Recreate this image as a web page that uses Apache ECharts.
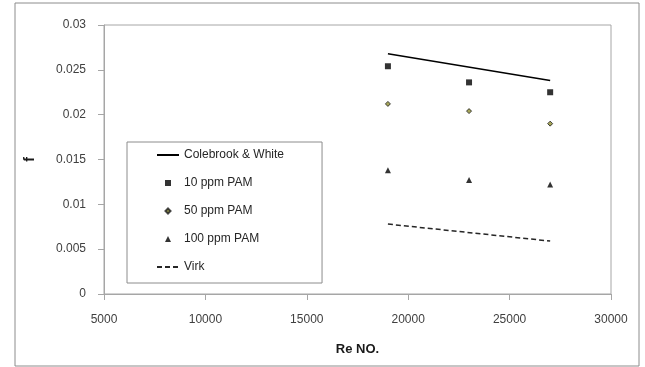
<!DOCTYPE html>
<html>
<head>
<meta charset="utf-8">
<script src="https://cdn.jsdelivr.net/npm/echarts@6/dist/echarts.min.js"></script>
<style>
  html, body { margin: 0; padding: 0; background: #fff; }
  #chart { width: 645px; height: 367px; }
</style>
</head>
<body>
<div id="chart"></div>
<script>
// Re numbers of the measured points
const reValues = [19000, 23000, 27000];
const colebrook = [0.0268, 0.0238];      // at first / last Re
const virk = [0.0078, 0.0059];
const ppm10 = [0.0254, 0.0236, 0.0225];
const ppm50 = [0.0212, 0.0204, 0.0190];
const ppm100 = [0.0138, 0.0127, 0.0122];
const lineRe = [reValues[0], reValues[reValues.length - 1]];

function pairs (xs, ys)
{
  return xs.map((x, i) => [x, ys[i]]);
}

let chart = echarts.init(document.getElementById('chart'));
let font = 'Liberation Sans, Arial, sans-serif';

// legend icons live in a 22x6 box; the bare moveTo's keep the box so the marker stays small
let iconSquare = 'path://M0 0M22 6M8 0L14 0L14 6L8 6Z';
let iconDiamond = 'path://M0 0M22 6M11 0.5L13.5 3L11 5.5L8.5 3Z';
let iconTriangle = 'path://M0 0M22 6M11 0L14 6L8 6Z';

let option = {
  animation: false,
  textStyle: { fontFamily: font },
  graphic: [
    {
      type: 'rect',
      shape: { x: 15, y: 3, width: 624, height: 363 },
      style: { fill: null, stroke: '#8c8c8c', lineWidth: 1 },
      silent: true
    }
  ],
  grid: {
    left: 104,
    right: 34,
    top: 25,
    bottom: 73,
    show: true,
    borderColor: '#a6a6a6',
    borderWidth: 1
  },
  legend: {
    orient: 'vertical',
    left: 127,
    top: 142,
    padding: [6, 38, 9, 29],
    itemGap: 14,
    itemWidth: 22,
    itemHeight: 6,
    borderColor: '#8c8c8c',
    borderWidth: 1,
    textStyle: { fontFamily: font, fontSize: 12, color: '#262626', lineHeight: 14 },
    data: [
      { name: 'Colebrook & White', itemStyle: { opacity: 0 } },
      { name: '10 ppm PAM', icon: iconSquare },
      { name: '50 ppm PAM', icon: iconDiamond },
      { name: '100 ppm PAM', icon: iconTriangle },
      { name: 'Virk', itemStyle: { opacity: 0 } }
    ]
  },
  xAxis: {
    type: 'value',
    min: 5000,
    max: 30000,
    interval: 5000,
    name: 'Re NO.',
    nameLocation: 'middle',
    nameGap: 49,
    nameTextStyle: { fontFamily: font, fontSize: 13, fontWeight: 'bold', color: '#1a1a1a' },
    splitLine: { show: false },
    axisLine: { lineStyle: { color: '#a6a6a6' } },
    axisTick: { length: 6, lineStyle: { color: '#a6a6a6' } },
    axisLabel: {
      margin: 20,
      fontSize: 12,
      color: '#404040',
      fontFamily: font,
      formatter: v => String(v)
    }
  },
  yAxis: {
    type: 'value',
    min: 0,
    max: 0.03,
    interval: 0.005,
    name: 'f',
    nameLocation: 'middle',
    nameGap: 67,
    nameTextStyle: { fontFamily: font, fontSize: 14, fontWeight: 'bold', color: '#1a1a1a' },
    splitLine: { show: false },
    axisLine: { show: true, lineStyle: { color: '#a6a6a6' } },
    axisTick: { show: true, length: 6, lineStyle: { color: '#a6a6a6' } },
    axisLabel: { margin: 18, fontSize: 12, color: '#404040', fontFamily: font }
  },
  series: [
    {
      name: 'Colebrook & White',
      type: 'line',
      symbol: 'none',
      data: pairs(lineRe, colebrook),
      lineStyle: { color: '#000', width: 1.5 },
      itemStyle: { color: '#000' }
    },
    {
      name: '10 ppm PAM',
      type: 'scatter',
      symbol: 'rect',
      symbolSize: 6,
      data: pairs(reValues, ppm10),
      itemStyle: { color: '#000' }
    },
    {
      name: '50 ppm PAM',
      type: 'scatter',
      symbol: 'diamond',
      symbolSize: 5,
      data: pairs(reValues, ppm50),
      itemStyle: { color: '#8f8f2e', borderColor: '#1a1a1a', borderWidth: 1 }
    },
    {
      name: '100 ppm PAM',
      type: 'scatter',
      symbol: 'triangle',
      symbolSize: 6,
      data: pairs(reValues, ppm100),
      itemStyle: { color: '#000' }
    },
    {
      name: 'Virk',
      type: 'line',
      symbol: 'none',
      data: pairs(lineRe, virk),
      lineStyle: { color: '#262626', width: 1.5, type: [5, 3] },
      itemStyle: { color: '#262626' }
    }
  ]
};

chart.setOption(option);
</script>
</body>
</html>
